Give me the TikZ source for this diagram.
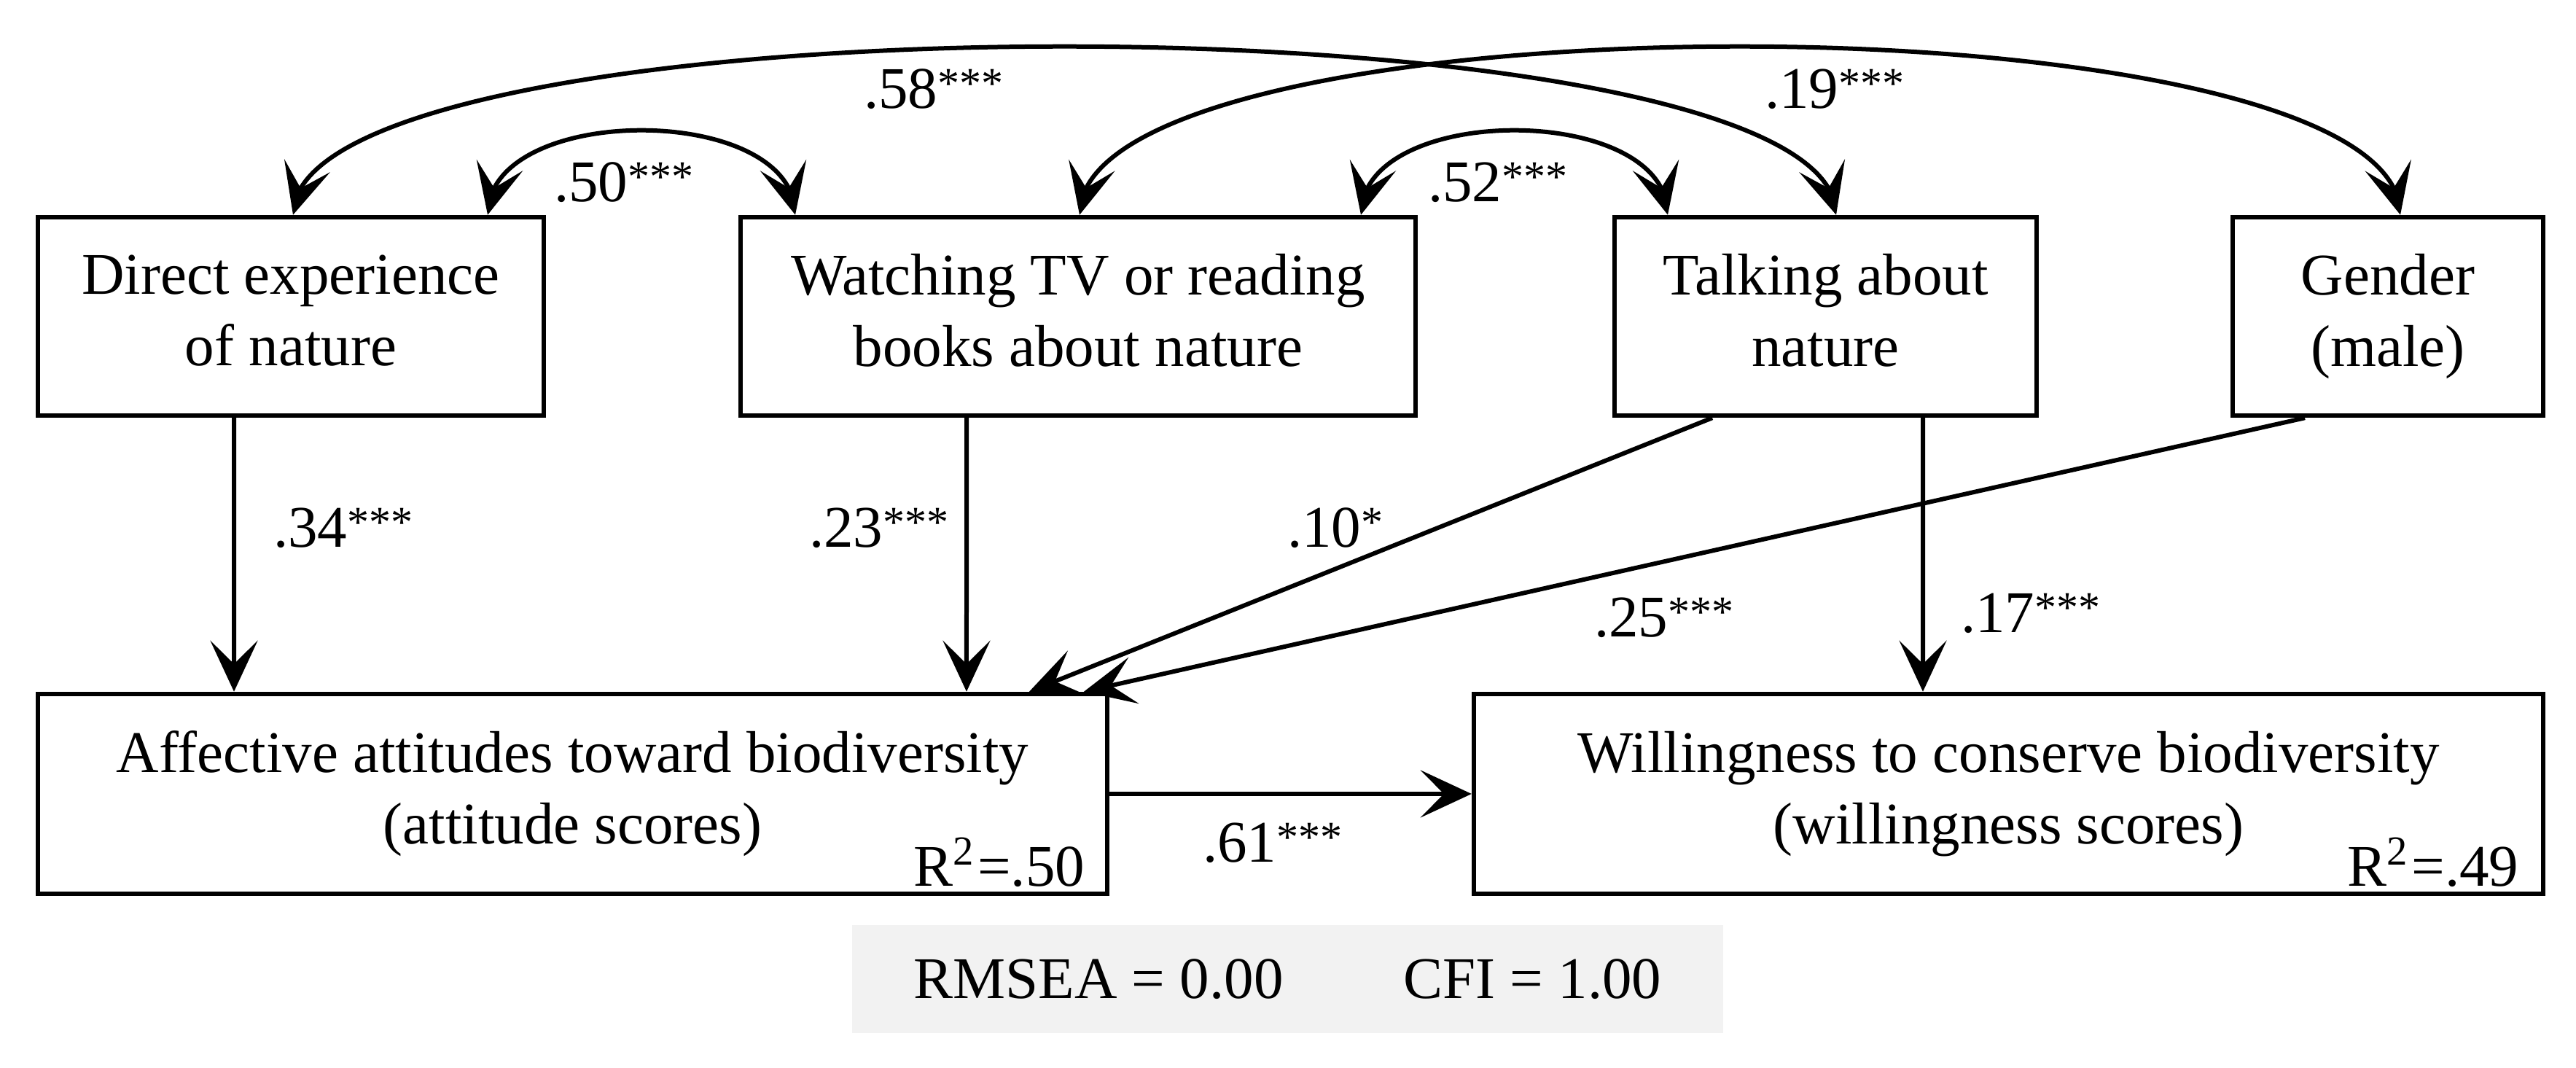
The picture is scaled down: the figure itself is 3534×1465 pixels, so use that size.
\documentclass[tikz,border=0pt]{standalone}
\usepackage{fontspec}
\setmainfont{Liberation Serif}
\usetikzlibrary{arrows.meta,bending}
\definecolor{fitgray}{HTML}{F2F2F2}
\newcommand{\fsz}{\fontsize{8.1}{9.8}\selectfont}
\newcommand{\sigst}[1]{\raisebox{1.4pt}{\fontsize{6}{5}\selectfont #1}}
\begin{document}
\begin{tikzpicture}[x=0.1pt,y=0.1pt,
  box/.style={draw, line width=0.65pt, inner sep=0pt, align=center, font=\fsz},
  lbl/.style={inner sep=0pt, anchor=base west, font=\fsz},
  tip/.style={Stealth[length=7pt,width=6.5pt,inset=3.2pt]},
  arr/.style={line width=0.6pt, -{Stealth[length=7pt,width=6.5pt,inset=3.2pt]}},
  dbl/.style={line width=0.6pt, {Stealth[length=7pt,width=6.5pt,inset=3.2pt]}-{Stealth[length=7pt,width=6.5pt,inset=3.2pt]}}]
\useasboundingbox (0,0) rectangle (3534,1465);

% boxes
\node[box, minimum width=69.4pt, minimum height=27.2pt] (direct) at (399,1031) {Direct experience\\of nature\vphantom{()}};
\node[box, minimum width=92.6pt, minimum height=27.2pt] (watching) at (1479,1031) {Watching TV or reading\\books about nature\vphantom{()}};
\node[box, minimum width=57.9pt, minimum height=27.2pt] (talking) at (2504.5,1031) {Talking about\\nature\vphantom{()}};
\node[box, minimum width=42.6pt, minimum height=27.2pt] (gender) at (3276,1031) {Gender\\(male)};
\node[box, minimum width=146.7pt, minimum height=27.4pt] (affective) at (785.5,376) {Affective attitudes toward biodiversity\\(attitude scores)};
\node[box, minimum width=146.7pt, minimum height=27.4pt] (willing) at (2755.5,376) {Willingness to conserve biodiversity\\(willingness scores)};

\node[lbl, anchor=base east] (r1) at ([xshift=-3.2pt,yshift=1.4pt]affective.south east) {R\textsuperscript{2}=.50};
\node[lbl, anchor=base east] (r2) at ([xshift=-3.5pt,yshift=1.4pt]willing.south east) {R\textsuperscript{2}=.49};

\node[fill=fitgray, inner sep=0pt, minimum width=119.5pt, minimum height=14.8pt, font=\fsz] (fit) at (1766.5,122) {RMSEA = 0.00\hspace{16.5pt}CFI = 1.00};

% directed paths
\draw[arr] ([xshift=-7.8pt]direct.south) -- ([xshift=-46.45pt]affective.north);
\draw[arr] ([xshift=-15.3pt]watching.south) -- ([xshift=54.05pt]affective.north);
\draw[arr] ([xshift=-15.55pt]talking.south) -- ([xshift=62.65pt]affective.north);
\draw[arr] ([xshift=-11.4pt]gender.south) -- ([xshift=70.15pt]affective.north);
\draw[arr] ([xshift=13.35pt]talking.south) -- ([xshift=-11.75pt]willing.north);
\draw[arr] (affective.east) -- (willing.west);

% correlations
\draw[dbl] ([xshift=27pt]direct.north) .. controls +(0,154.7) and +(0,154.7) .. ([xshift=-38.8pt]watching.north);
\draw[dbl] ([xshift=38.8pt]watching.north) .. controls +(0,154.7) and +(0,154.7) .. ([xshift=-21.65pt]talking.north);
\draw[dbl] ([xshift=0.3pt]direct.north) .. controls +(0,308) and +(0,308) .. ([xshift=1.45pt]talking.north);
\draw[dbl] ([xshift=0.2pt]watching.north) .. controls +(0,308) and +(0,308) .. ([xshift=1.7pt]gender.north);

% labels
\node[lbl] (l58) at (1183,1316) {.58\sigst{***}};
\node[lbl] (l50) at (758,1188) {.50\sigst{***}};
\node[lbl] (l19) at (2419,1316) {.19\sigst{***}};
\node[lbl] (l52) at (1957,1188) {.52\sigst{***}};
\node[lbl] (l34) at (373,714) {.34\sigst{***}};
\node[lbl] (l23) at (1108,714) {.23\sigst{***}};
\node[lbl] (l10) at (1764,714) {.10\sigst{*}};
\node[lbl] (l25) at (2185,591) {.25\sigst{***}};
\node[lbl] (l17) at (2688,597) {.17\sigst{***}};
\node[lbl] (l61) at (1648,282) {.61\sigst{***}};
\end{tikzpicture}
\end{document}
